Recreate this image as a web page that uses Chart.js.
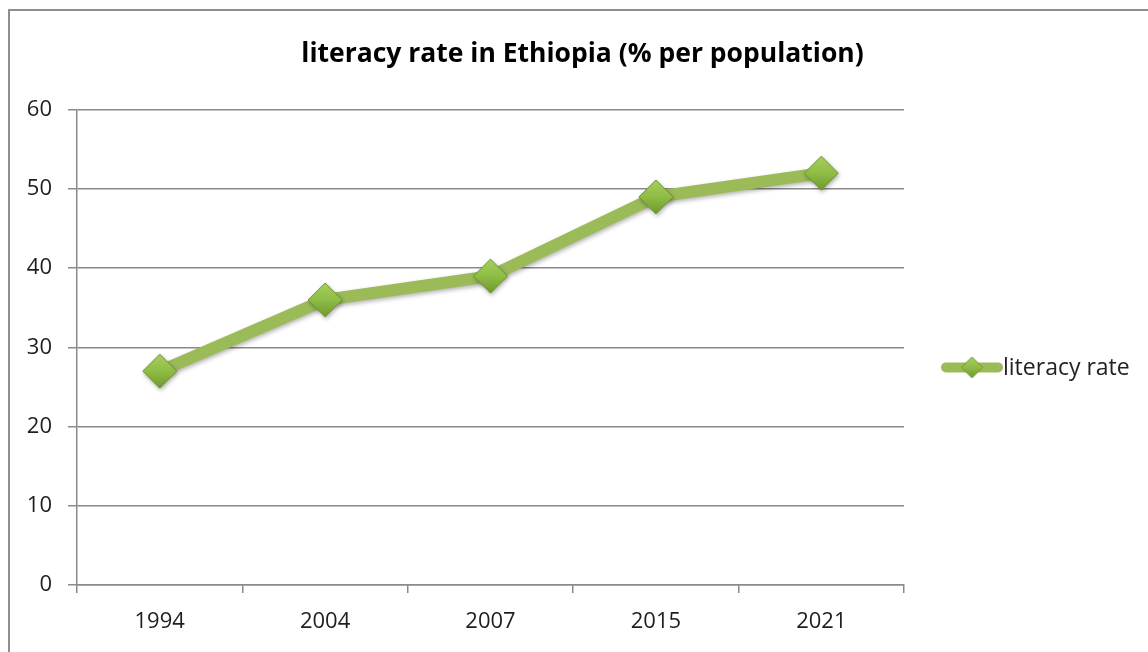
<!DOCTYPE html>
<html>
<head>
<meta charset="utf-8">
<script src="https://cdn.jsdelivr.net/npm/chart.js@4/dist/chart.umd.min.js"></script>
<style>
  body { margin: 0; background: #fff; }
  #wrap { position: relative; width: 1148px; height: 652px; overflow: hidden; }
  #frame { position: absolute; left: 8px; top: 9px; width: 1200px; height: 700px;
           border-left: 2px solid #8e8e8e; border-top: 2px solid #8e8e8e; pointer-events: none; }
</style>
</head>
<body>
<div id="wrap">
  <canvas id="chart" width="1148" height="652"></canvas>
  <div id="frame"></div>
</div>
<script>
const years = ['1994', '2004', '2007', '2015', '2021'];
const literacyRate = [27, 36, 39, 49, 52];
const seriesName = 'literacy rate';
const yMin = 0, yMax = 60, yStep = 10;

const lineGreen = '#9bbb59';
const gridGray = '#8a8a8a';
const font = 'Open Sans';

// diamond marker with a top-light / bottom-dark gradient
function makeDiamond(r) {
  const size = Math.ceil(r * 2 + 2);
  const c = document.createElement('canvas');
  c.width = size; c.height = size;
  const g = c.getContext('2d');
  const m = size / 2;
  const grad = g.createLinearGradient(0, m - r, 0, m + r);
  grad.addColorStop(0, '#a6d05e');
  grad.addColorStop(0.5, '#8fbd45');
  grad.addColorStop(1, '#6f9a2e');
  g.fillStyle = grad;
  g.strokeStyle = '#6f9433';
  g.lineWidth = 1;
  g.beginPath();
  g.moveTo(m, m - r);
  g.lineTo(m + r, m);
  g.lineTo(m, m + r);
  g.lineTo(m - r, m);
  g.closePath();
  g.fill();
  g.stroke();
  return c;
}
const bigDiamond = makeDiamond(17);
const smallDiamond = makeDiamond(10.5);

// soft shadow under the line + diamonds, like the excel look
const shadowPlugin = {
  id: 'shadow',
  beforeDatasetsDraw(chart) {
    const ctx = chart.ctx;
    ctx.save();
    ctx.shadowColor = 'rgba(0,0,0,0.3)';
    ctx.shadowBlur = 4;
    ctx.shadowOffsetX = 1;
    ctx.shadowOffsetY = 2;
  },
  afterDatasetsDraw(chart) {
    chart.ctx.restore();
  }
};

// legend on the right: thick line with a diamond, then the label
const sideLegend = {
  id: 'sideLegend',
  afterDraw(chart) {
    const ctx = chart.ctx;
    const area = chart.chartArea;
    const x0 = area.right + 38;
    const y = (area.top + area.bottom) / 2 + 20;
    ctx.save();
    ctx.strokeStyle = lineGreen;
    ctx.lineWidth = 10;
    ctx.lineCap = 'round';
    ctx.beginPath();
    ctx.moveTo(x0 + 4, y);
    ctx.lineTo(x0 + 56, y);
    ctx.stroke();
    const cx = x0 + 30;
    ctx.drawImage(smallDiamond, cx - smallDiamond.width / 2, y - smallDiamond.height / 2);
    ctx.fillStyle = '#222';
    ctx.font = '23px "' + font + '"';
    ctx.textBaseline = 'middle';
    ctx.fillText(seriesName, x0 + 61, y + 1);
    ctx.restore();
  }
};

new Chart(document.getElementById('chart'), {
  type: 'line',
  data: {
    labels: years,
    datasets: [{
      label: seriesName,
      data: literacyRate,
      borderColor: lineGreen,
      borderWidth: 12,
      pointStyle: bigDiamond,
      pointRadius: 17,
      pointHoverRadius: 17,
      tension: 0,
      fill: false
    }]
  },
  options: {
    responsive: false,
    animation: false,
    layout: { padding: { left: 17, right: 0, top: 0, bottom: 0 } },
    plugins: {
      legend: { display: false },
      tooltip: { enabled: false },
      title: {
        display: true,
        text: 'literacy rate in Ethiopia (% per population)',
        color: '#000',
        font: { family: font, size: 26.5, weight: 'bold' },
        padding: { top: 39, bottom: 39 }
      }
    },
    scales: {
      x: {
        offset: true,
        grid: { offset: true, drawOnChartArea: false, drawTicks: true, tickLength: 8, color: gridGray, lineWidth: 1.5 },
        border: { display: true, color: gridGray, width: 1.5 },
        ticks: { color: '#1e1e1e', font: { family: font, size: 22 }, padding: 16, maxRotation: 0 },
        afterFit(s) { s.height = 67; }
      },
      y: {
        min: yMin,
        max: yMax,
        ticks: { stepSize: yStep, color: '#1e1e1e', font: { family: font, size: 22 }, padding: 16 },
        grid: { color: gridGray, lineWidth: 1.5, tickLength: 9 },
        border: { display: true, color: gridGray, width: 1.5 },
        afterFit(s) { s.width = 60; }
      },
      legendSpace: {
        type: 'linear',
        position: 'right',
        grid: { display: false },
        border: { display: false },
        ticks: { display: false },
        afterFit(s) { s.width = 244; }
      }
    }
  },
  plugins: [shadowPlugin, sideLegend]
});
</script>
</body>
</html>
